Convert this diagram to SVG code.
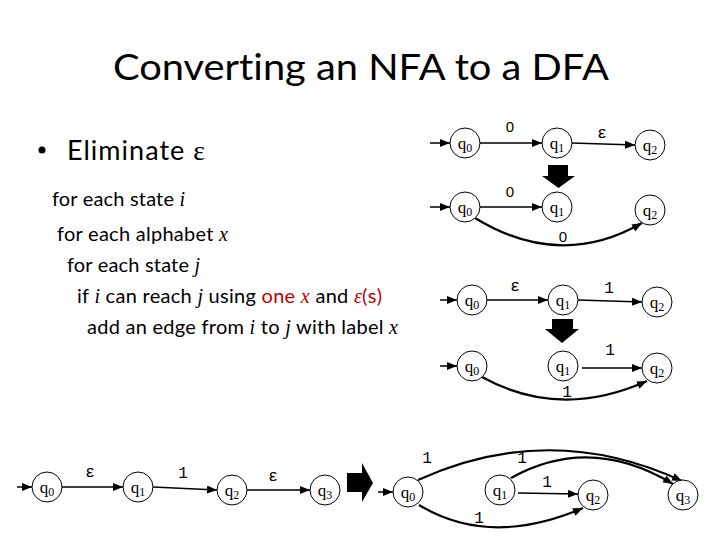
<svg xmlns="http://www.w3.org/2000/svg" width="720" height="540" viewBox="0 0 720 540">
<style>
.st{fill:#fff;stroke:#000;stroke-width:1}
.ql{font-family:"Liberation Serif",serif;font-size:17px;fill:#000}
.sub{font-size:12px}
.e{fill:none;stroke:#000;stroke-width:1.5}
.c{fill:none;stroke:#000;stroke-width:2.2}
.lb{font-family:"Liberation Mono",monospace;font-size:16px;fill:#000}
.z{font-family:"Liberation Sans",sans-serif;font-size:15px;fill:#000}
.body{font-family:Lato,"Open Sans",sans-serif;font-size:20px;fill:#000;font-variant-ligatures:none}
.it{font-family:"Liberation Serif",serif;font-style:italic}
.red{fill:#c00000}
</style>
<defs>
<marker id="ah" markerUnits="userSpaceOnUse" markerWidth="12" markerHeight="10" refX="10" refY="4" orient="auto">
<path d="M0,0 L10,4 L0,8 Z" fill="#000"/>
</marker>
</defs>
<rect width="720" height="540" fill="#fff"/>
<text x="361" y="80" text-anchor="middle" font-family="Lato,'Open Sans',sans-serif" font-size="37" textLength="496" lengthAdjust="spacingAndGlyphs" style="font-variant-ligatures:none">Converting an NFA to a DFA</text>
<circle cx="42" cy="150" r="3.5" fill="#000"/>
<text x="67" y="160" font-family="Lato,'Open Sans',sans-serif" font-size="27" textLength="138">Eliminate <tspan font-family="'Liberation Serif',serif" font-size="28">ε</tspan></text>
<text class="body" x="52" y="206" textLength="133">for each state <tspan class="it">i</tspan></text>
<text class="body" x="57" y="241" textLength="171">for each alphabet <tspan class="it">x</tspan></text>
<text class="body" x="67" y="272" textLength="133">for each state <tspan class="it">j</tspan></text>
<text class="body" x="77" y="303" textLength="305">if <tspan class="it">i</tspan> can reach <tspan class="it">j</tspan> using <tspan class="red">one <tspan class="it">x</tspan></tspan> and <tspan class="red"><tspan class="it">ε</tspan>(s)</tspan></text>
<text class="body" x="87" y="334" textLength="311">add an edge from <tspan class="it">i</tspan> to <tspan class="it">j</tspan> with label <tspan class="it">x</tspan></text>
<g id="connectors">
<line class="e" x1="430" y1="143" x2="450" y2="143" marker-end="url(#ah)"/>
<line class="e" x1="480" y1="143" x2="542" y2="143" marker-end="url(#ah)"/>
<line class="e" x1="572" y1="143" x2="635" y2="145" marker-end="url(#ah)"/>
<line class="e" x1="430" y1="207" x2="450" y2="207" marker-end="url(#ah)"/>
<line class="e" x1="480" y1="207" x2="542" y2="207" marker-end="url(#ah)"/>
<path class="c" d="M475,218 Q560,270 642,223" marker-end="url(#ah)"/>
<line class="e" x1="440" y1="300" x2="457" y2="300" marker-end="url(#ah)"/>
<line class="e" x1="487" y1="300" x2="548" y2="300" marker-end="url(#ah)"/>
<line class="e" x1="578" y1="300" x2="642" y2="302" marker-end="url(#ah)"/>
<line class="e" x1="440" y1="366" x2="457" y2="366" marker-end="url(#ah)"/>
<line class="e" x1="582" y1="368" x2="642" y2="368" marker-end="url(#ah)"/>
<path class="c" d="M482,377 Q560,420 647,381" marker-end="url(#ah)"/>
<line class="e" x1="17" y1="487" x2="32" y2="487" marker-end="url(#ah)"/>
<line class="e" x1="62" y1="487" x2="123" y2="487" marker-end="url(#ah)"/>
<line class="e" x1="153" y1="487" x2="217" y2="490" marker-end="url(#ah)"/>
<line class="e" x1="247" y1="490" x2="310" y2="490" marker-end="url(#ah)"/>
<line class="e" x1="378" y1="492" x2="393" y2="492" marker-end="url(#ah)"/>
<line class="e" x1="518" y1="493" x2="578" y2="494" marker-end="url(#ah)"/>
<path class="c" d="M418,480 Q550,420 682,481" marker-end="url(#ah)"/>
<path class="c" d="M511,478 Q590,434 673,484" marker-end="url(#ah)"/>
<path class="c" d="M419,505 Q490,548 583,508" marker-end="url(#ah)"/>
<text class="z" x="510" y="132" text-anchor="middle">0</text>
<text class="lb" x="602" y="138" text-anchor="middle" font-size="14">ε</text>
<text class="z" x="510" y="197" text-anchor="middle">0</text>
<text class="z" x="563" y="242" text-anchor="middle">0</text>
<text class="lb" x="515" y="291" text-anchor="middle" font-size="14">ε</text>
<text class="lb" x="609" y="293" text-anchor="middle">1</text>
<text class="lb" x="610" y="355" text-anchor="middle">1</text>
<text class="lb" x="567" y="397" text-anchor="middle">1</text>
<text class="lb" x="90" y="477" text-anchor="middle" font-size="14">ε</text>
<text class="lb" x="183" y="478" text-anchor="middle">1</text>
<text class="lb" x="273" y="481" text-anchor="middle" font-size="14">ε</text>
<text class="lb" x="427" y="463" text-anchor="middle">1</text>
<text class="lb" x="522" y="463" text-anchor="middle">1</text>
<text class="lb" x="547" y="487" text-anchor="middle">1</text>
<text class="lb" x="479" y="523" text-anchor="middle">1</text>
</g>
<path d="M548,165 H568 V176 H575 L558.5,188 L542,176 H548 Z" fill="#000"/>
<path d="M552,319 H573 V329 H579 L562,343 L545,329 H552 Z" fill="#000"/>
<path d="M347,473 H362 V463 L373,483 L362,502 V492 H347 Z" fill="#000"/>
<g id="r1q0"><circle class="st" cx="465" cy="143" r="15"/><text class="ql" x="465" y="149" text-anchor="middle">q<tspan class="sub" dy="3">0</tspan></text></g>
<g id="r1q1"><circle class="st" cx="557" cy="143" r="15"/><text class="ql" x="557" y="149" text-anchor="middle">q<tspan class="sub" dy="3">1</tspan></text></g>
<g id="r1q2"><circle class="st" cx="650" cy="145" r="15"/><text class="ql" x="650" y="151" text-anchor="middle">q<tspan class="sub" dy="3">2</tspan></text></g>
<g id="r2q0"><circle class="st" cx="465" cy="207" r="15"/><text class="ql" x="465" y="213" text-anchor="middle">q<tspan class="sub" dy="3">0</tspan></text></g>
<g id="r2q1"><circle class="st" cx="557" cy="207" r="15"/><text class="ql" x="557" y="213" text-anchor="middle">q<tspan class="sub" dy="3">1</tspan></text></g>
<g id="r2q2"><circle class="st" cx="650" cy="210" r="15"/><text class="ql" x="650" y="216" text-anchor="middle">q<tspan class="sub" dy="3">2</tspan></text></g>
<g id="r3q0"><circle class="st" cx="472" cy="300" r="15"/><text class="ql" x="472" y="306" text-anchor="middle">q<tspan class="sub" dy="3">0</tspan></text></g>
<g id="r3q1"><circle class="st" cx="563" cy="300" r="15"/><text class="ql" x="563" y="306" text-anchor="middle">q<tspan class="sub" dy="3">1</tspan></text></g>
<g id="r3q2"><circle class="st" cx="657" cy="302" r="15"/><text class="ql" x="657" y="308" text-anchor="middle">q<tspan class="sub" dy="3">2</tspan></text></g>
<g id="r4q0"><circle class="st" cx="472" cy="366" r="15"/><text class="ql" x="472" y="372" text-anchor="middle">q<tspan class="sub" dy="3">0</tspan></text></g>
<g id="r4q1"><circle class="st" cx="563" cy="366" r="15"/><text class="ql" x="563" y="372" text-anchor="middle">q<tspan class="sub" dy="3">1</tspan></text></g>
<g id="r4q2"><circle class="st" cx="657" cy="368" r="15"/><text class="ql" x="657" y="374" text-anchor="middle">q<tspan class="sub" dy="3">2</tspan></text></g>
<g id="b1q0"><circle class="st" cx="47" cy="487" r="15"/><text class="ql" x="47" y="493" text-anchor="middle">q<tspan class="sub" dy="3">0</tspan></text></g>
<g id="b1q1"><circle class="st" cx="138" cy="487" r="15"/><text class="ql" x="138" y="493" text-anchor="middle">q<tspan class="sub" dy="3">1</tspan></text></g>
<g id="b1q2"><circle class="st" cx="232" cy="490" r="15"/><text class="ql" x="232" y="496" text-anchor="middle">q<tspan class="sub" dy="3">2</tspan></text></g>
<g id="b1q3"><circle class="st" cx="325" cy="490" r="15"/><text class="ql" x="325" y="496" text-anchor="middle">q<tspan class="sub" dy="3">3</tspan></text></g>
<g id="b2q0"><circle class="st" cx="408" cy="492" r="15"/><text class="ql" x="408" y="498" text-anchor="middle">q<tspan class="sub" dy="3">0</tspan></text></g>
<g id="b2q1"><circle class="st" cx="500" cy="490" r="15"/><text class="ql" x="500" y="496" text-anchor="middle">q<tspan class="sub" dy="3">1</tspan></text></g>
<g id="b2q2"><circle class="st" cx="593" cy="495" r="15"/><text class="ql" x="593" y="501" text-anchor="middle">q<tspan class="sub" dy="3">2</tspan></text></g>
<g id="b2q3"><circle class="st" cx="683" cy="495" r="15"/><text class="ql" x="683" y="501" text-anchor="middle">q<tspan class="sub" dy="3">3</tspan></text></g>
</svg>
